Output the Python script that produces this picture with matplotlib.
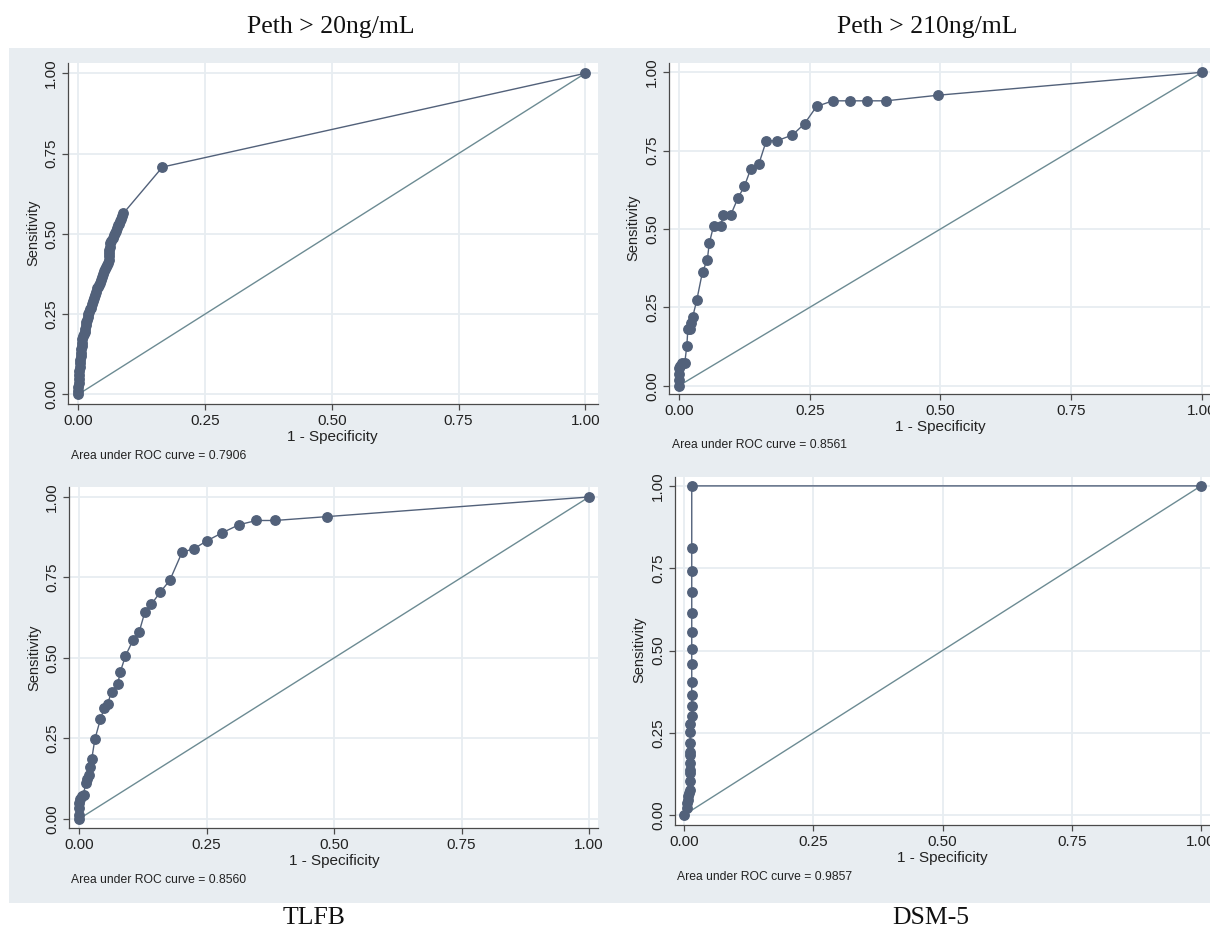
import numpy as np
import matplotlib
matplotlib.use('Agg')
import matplotlib.pyplot as plt
from matplotlib.patches import Rectangle

#==============================================================================
# ROC points
#==============================================================================
# Peth > 20ng/mL
fpr_20 = [0.000, 0.000, 0.000, 0.001, 0.001, 0.002, 0.002, 0.003, 0.003, 0.004,
          0.005, 0.005, 0.006, 0.007, 0.008, 0.008, 0.010, 0.012, 0.013, 0.014,
          0.015, 0.016, 0.018, 0.019, 0.020, 0.022, 0.024, 0.025, 0.027, 0.029,
          0.031, 0.033, 0.034, 0.036, 0.038, 0.040, 0.043, 0.045, 0.047, 0.049,
          0.051, 0.053, 0.055, 0.057, 0.059, 0.060, 0.060, 0.061, 0.061, 0.062,
          0.063, 0.065, 0.068, 0.070, 0.072, 0.075, 0.077, 0.079, 0.081, 0.083,
          0.085, 0.087, 0.089, 0.166, 1.000]
tpr_20 = [0.000, 0.010, 0.022, 0.035, 0.048, 0.060, 0.072, 0.085, 0.097, 0.108,
          0.118, 0.128, 0.140, 0.150, 0.160, 0.172, 0.182, 0.187, 0.195, 0.205,
          0.215, 0.224, 0.232, 0.240, 0.250, 0.258, 0.265, 0.270, 0.280, 0.290,
          0.300, 0.310, 0.320, 0.330, 0.335, 0.340, 0.348, 0.355, 0.365, 0.375,
          0.383, 0.390, 0.397, 0.403, 0.410, 0.420, 0.430, 0.440, 0.450, 0.460,
          0.470, 0.478, 0.487, 0.495, 0.502, 0.510, 0.518, 0.526, 0.532, 0.540,
          0.547, 0.555, 0.564, 0.708, 1.000]

# Peth > 210ng/mL
fpr_210 = [0.000, 0.000, 0.000, 0.000, 0.002, 0.005, 0.011, 0.015, 0.017, 0.021,
           0.023, 0.026, 0.034, 0.045, 0.054, 0.058, 0.066, 0.080, 0.084, 0.099,
           0.113, 0.125, 0.137, 0.153, 0.167, 0.188, 0.217, 0.240, 0.263, 0.294,
           0.327, 0.360, 0.396, 0.496, 1.000]
tpr_210 = [0.000, 0.018, 0.036, 0.055, 0.064, 0.073, 0.073, 0.127, 0.182, 0.182,
           0.200, 0.218, 0.273, 0.364, 0.400, 0.455, 0.509, 0.509, 0.545, 0.545,
           0.600, 0.636, 0.691, 0.709, 0.782, 0.782, 0.800, 0.836, 0.891, 0.909,
           0.909, 0.909, 0.909, 0.927, 1.000]

# TLFB
fpr_tlfb = [0.000, 0.000, 0.000, 0.000, 0.002, 0.005, 0.009, 0.013, 0.016, 0.019,
            0.022, 0.025, 0.031, 0.042, 0.050, 0.056, 0.064, 0.076, 0.081, 0.091,
            0.106, 0.118, 0.129, 0.142, 0.159, 0.178, 0.202, 0.226, 0.251, 0.281,
            0.314, 0.348, 0.384, 0.486, 1.000]
tpr_tlfb = [0.000, 0.013, 0.034, 0.050, 0.062, 0.070, 0.076, 0.112, 0.124, 0.138,
            0.161, 0.186, 0.247, 0.310, 0.346, 0.358, 0.395, 0.420, 0.457, 0.506,
            0.556, 0.581, 0.642, 0.667, 0.704, 0.741, 0.828, 0.840, 0.864, 0.889,
            0.914, 0.927, 0.927, 0.939, 1.000]

# DSM-5
fpr_dsm = [0.000, 0.005, 0.005, 0.007, 0.007, 0.009, 0.011, 0.011, 0.011, 0.011,
           0.011, 0.012, 0.012, 0.012, 0.012, 0.012, 0.015, 0.015, 0.015, 0.015,
           0.015, 0.015, 0.015, 0.015, 0.015, 0.015, 0.015, 0.015, 1.000]
tpr_dsm = [0.000, 0.021, 0.036, 0.047, 0.057, 0.067, 0.077, 0.104, 0.128, 0.138,
           0.158, 0.183, 0.193, 0.219, 0.252, 0.277, 0.302, 0.331, 0.364, 0.405,
           0.460, 0.506, 0.556, 0.615, 0.677, 0.742, 0.810, 1.000, 1.000]

panel_titles = ['Peth > 20ng/mL', 'Peth > 210ng/mL']
panel_captions = ['TLFB', 'DSM-5']
auc_labels = ['0.7906', '0.8561', '0.8560', '0.9857']
ticks = [0, 0.25, 0.5, 0.75, 1.0]
tick_labels = ['0.00', '0.25', '0.50', '0.75', '1.00']
ref_line = [0, 1]

#==============================================================================
W, H = 1210, 932
BG = '#e8edf1'
CURVE = '#52617a'
REF = '#6c8b93'
GRID = '#e7edf1'
AXIS = '#4a4a4a'
SANS = 'Liberation Sans'
SERIF = 'Liberation Serif'

fig = plt.figure(figsize=(W/100, H/100), dpi=100)
fig.patch.set_facecolor('white')

def fx(px):
  return px / W

def fy(py):
  return 1 - py / H

# light graph region behind all four panels
fig.patches.append(Rectangle((fx(9), fy(903)), (1210-9)/W, (903-48)/H,
                             transform=fig.transFigure, facecolor=BG,
                             edgecolor='none', zorder=-10))

def rocPanel(box, xlim, ylim, fpr, tpr, auc, ylab_xy, xlab_xy, auc_xy):
  """ box = (left, top, right, bottom) in pixels, top origin """
  left, top, right, bottom = box
  ax = fig.add_axes([fx(left), fy(bottom), (right-left)/W, (bottom-top)/H])
  ax.set_facecolor('white')
  ax.plot(ref_line, ref_line, color=REF, lw=1.0, zorder=2)
  ax.plot(fpr, tpr, color=CURVE, lw=1.0, marker='o', ms=6.8,
          mfc=CURVE, mec=CURVE, zorder=3, clip_on=False)
  ax.set_xlim(*xlim)
  ax.set_ylim(*ylim)
  ax.set_xticks(ticks)
  ax.set_yticks(ticks)
  ax.set_xticklabels(tick_labels, fontfamily=SANS, fontsize=11)
  ax.set_yticklabels(tick_labels, fontfamily=SANS, fontsize=11,
                     rotation=90, va='center')
  ax.tick_params(length=4, width=0.9, color=AXIS, pad=3, labelcolor='#222222')
  ax.grid(True, color=GRID, lw=1.3)
  ax.set_axisbelow(True)
  for s in ['top', 'right']:
    ax.spines[s].set_visible(False)
  for s in ['left', 'bottom']:
    ax.spines[s].set_color(AXIS)
    ax.spines[s].set_linewidth(0.9)
  fig.text(fx(ylab_xy[0]), fy(ylab_xy[1]), 'Sensitivity', rotation=90,
           ha='center', va='center', fontfamily=SANS, fontsize=10.5,
           color='#222222')
  fig.text(fx(xlab_xy[0]), fy(xlab_xy[1]), '1 - Specificity',
           ha='center', va='center', fontfamily=SANS, fontsize=11,
           color='#222222')
  fig.text(fx(auc_xy[0]), fy(auc_xy[1]), 'Area under ROC curve = ' + auc,
           ha='left', va='center', fontfamily=SANS, fontsize=8.7,
           color='#222222')
  return ax

rocPanel((68, 63, 598, 404), (-0.0203, 1.025), (-0.030, 1.032),
         fpr_20, tpr_20, auc_labels[0], (33, 233), (332, 437), (71, 456))
rocPanel((669, 63, 1210, 394), (-0.0191, 1.0153), (-0.0265, 1.0297),
         fpr_210, tpr_210, auc_labels[1], (633, 228), (940, 427), (672, 445))
rocPanel((69, 487, 598, 828), (-0.0196, 1.0176), (-0.028, 1.031),
         fpr_tlfb, tpr_tlfb, auc_labels[2], (34, 658), (334, 861), (71, 880))
rocPanel((675, 477, 1210, 825), (-0.0174, 1.0174), (-0.030, 1.027),
         fpr_dsm, tpr_dsm, auc_labels[3], (639, 650), (942, 858), (677, 877))

# panel headings / captions in serif
fig.text(fx(331), fy(27), panel_titles[0], ha='center', va='center',
         fontfamily=SERIF, fontsize=18.5, color='#111111')
fig.text(fx(927), fy(27), panel_titles[1], ha='center', va='center',
         fontfamily=SERIF, fontsize=18.5, color='#111111')
fig.text(fx(314), fy(918), panel_captions[0], ha='center', va='center',
         fontfamily=SERIF, fontsize=18.5, color='#111111')
fig.text(fx(931), fy(918), panel_captions[1], ha='center', va='center',
         fontfamily=SERIF, fontsize=18.5, color='#111111')

fig.savefig('out.png', dpi=100, facecolor='white')
